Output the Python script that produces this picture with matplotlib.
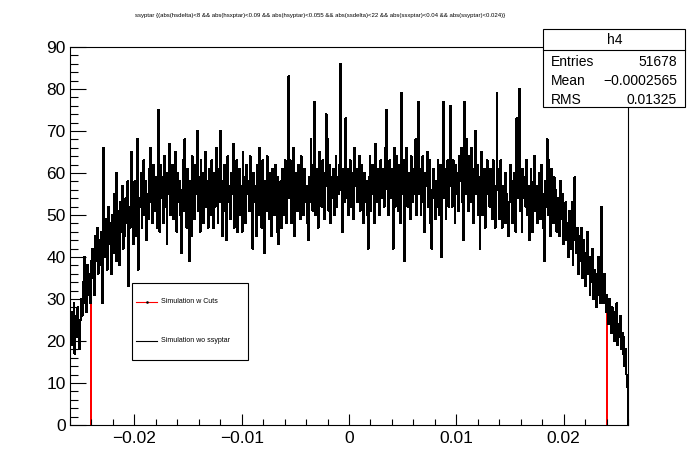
import matplotlib
matplotlib.use("Agg")
import matplotlib.pyplot as plt
import numpy as np
from matplotlib.lines import Line2D
from matplotlib.patches import Rectangle
from matplotlib.ticker import MultipleLocator

plt.rcParams["font.family"] = ["Liberation Sans", "DejaVu Sans"]

# histogram range and the ssyptar cut
x_min, x_max = -0.026, 0.026
cut = 0.024

# bin contents left to right (78 bins per block)
counts_a = [24, 19, 27, 22, 29, 17, 26, 21, 28, 23, 18, 25,
            30, 26, 34, 29, 40, 33, 27, 38, 31, 36, 29, 39,
            35, 42, 37, 31, 45, 39, 47, 36, 41, 44, 38, 46,
            29, 66, 44, 40, 49, 37, 46, 52, 43, 48, 36, 50,
            41, 55, 47, 39, 60, 44, 51, 38, 53, 46, 57, 42,
            50, 45, 54, 48, 58, 33, 52, 47, 65, 49, 55, 43,
            58, 45, 52, 68, 37, 54]
counts_b = [52, 60, 47, 56, 63, 50, 58, 44, 55, 49, 61, 53,
            66, 57, 48, 62, 54, 51, 59, 47, 75, 57, 46, 62,
            54, 59, 48, 64, 52, 57, 43, 60, 55, 67, 50, 58,
            62, 49, 57, 65, 52, 46, 60, 53, 58, 50, 41, 56,
            63, 51, 68, 55, 47, 61, 54, 39, 58, 45, 64, 52,
            57, 49, 62, 55, 70, 51, 59, 46, 63, 54, 60, 48,
            56, 65, 52, 58, 47, 61]
counts_c = [57, 50, 63, 54, 47, 60, 52, 66, 55, 48, 61, 53,
            70, 58, 45, 56, 62, 51, 59, 44, 64, 53, 57, 49,
            60, 55, 67, 47, 58, 52, 63, 46, 54, 61, 50, 57,
            46, 65, 53, 59, 48, 62, 55, 58, 51, 64, 56, 49,
            42, 60, 53, 57, 45, 62, 50, 66, 54, 59, 47, 63,
            55, 41, 58, 51, 64, 56, 49, 60, 53, 45, 61, 57,
            50, 62, 55, 46, 59, 43]
counts_d = [52, 58, 47, 61, 55, 50, 63, 57, 48, 60, 83, 54,
            63, 48, 56, 66, 53, 45, 60, 54, 51, 62, 57, 49,
            64, 55, 59, 50, 61, 53, 57, 48, 44, 59, 53, 68,
            58, 51, 62, 77, 50, 61, 56, 47, 65, 55, 60, 52,
            63, 55, 49, 60, 74, 57, 68, 51, 62, 48, 59, 54,
            61, 50, 57, 64, 52, 59, 55, 62, 86, 56, 46, 61,
            58, 53, 73, 54, 61, 50]
counts_e = [58, 63, 52, 60, 55, 49, 66, 57, 61, 53, 59, 64,
            51, 57, 62, 55, 48, 60, 53, 58, 50, 42, 59, 64,
            51, 57, 62, 55, 48, 67, 58, 53, 61, 56, 50, 63,
            54, 58, 61, 52, 66, 75, 60, 56, 50, 63, 54, 58,
            61, 42, 66, 52, 59, 64, 57, 51, 62, 48, 79, 60,
            55, 63, 39, 58, 66, 52, 60, 56, 49, 64, 57, 53,
            61, 55, 68, 50, 59, 77]
counts_f = [55, 61, 50, 58, 64, 53, 46, 60, 57, 65, 52, 59,
            63, 48, 42, 56, 61, 54, 49, 58, 52, 63, 57, 50,
            62, 40, 56, 77, 54, 61, 49, 58, 63, 52, 57, 76,
            58, 52, 63, 57, 48, 62, 55, 60, 51, 64, 58, 66,
            53, 61, 44, 77, 55, 68, 60, 51, 64, 58, 66, 53,
            61, 48, 57, 70, 55, 62, 50, 59, 42, 53, 65, 50,
            58, 61, 47, 56, 63, 55]
counts_g = [58, 52, 61, 56, 49, 63, 54, 47, 57, 79, 56, 61,
            49, 63, 54, 47, 57, 52, 60, 48, 55, 50, 45, 53,
            62, 55, 48, 58, 51, 60, 46, 73, 54, 58, 80, 51,
            58, 46, 61, 54, 59, 52, 63, 50, 57, 44, 55, 61,
            53, 46, 58, 64, 51, 57, 48, 56, 60, 54, 49, 62,
            55, 47, 39, 58, 52, 68, 50, 63, 57, 45, 61, 53,
            48, 59, 52, 56, 46, 54]
counts_h = [52, 45, 58, 49, 55, 43, 50, 47, 53, 44, 48, 40,
            51, 46, 42, 53, 38, 49, 59, 44, 41, 47, 36, 45,
            39, 47, 42, 35, 44, 38, 33, 41, 46, 36, 40, 31,
            38, 34, 42, 30, 37, 33, 28, 36, 40, 31, 35, 29,
            52, 33, 29, 36, 30, 27, 31, 28, 24, 30, 25, 22,
            28, 25, 20, 27, 23, 29, 19, 24, 21, 26, 18, 22,
            17, 21, 14, 18, 12, 9]

title = ("ssyptar {(abs(hsdelta)<8 && abs(hsxptar)<0.09 && abs(hsyptar)<0.055 "
         "&& abs(ssdelta)<22 && abs(ssxptar)<0.04 && abs(ssyptar)<0.024)}")
stat_names = ["Entries", "Mean", "RMS"]
stat_values = ["51678", "\u22120.0002565", "0.01325"]
legend_labels = ["Simulation w Cuts", "Simulation wo ssyptar"]
x_ticks = [-0.02, -0.01, 0, 0.01, 0.02]
x_ticklabels = ["\u22120.02", "\u22120.01", "0", "0.01", "0.02"]

counts = np.array(counts_a + counts_b + counts_c + counts_d
                  + counts_e + counts_f + counts_g + counts_h)
edges = np.linspace(x_min, x_max, len(counts) + 1)
centers = 0.5 * (edges[:-1] + edges[1:])
inside = np.abs(centers) < cut
first, last = np.flatnonzero(inside)[[0, -1]]

W, H = 698, 474


def fx(px):
    return px / W


def fy(py):
    return 1 - py / H


fig = plt.figure(figsize=(W / 100, H / 100), dpi=100)
ax = fig.add_axes([fx(70), fy(425), (628 - 70) / W, (425 - 47) / H])

# red (with cut) underneath; black on top hides it except the drops at +-0.024
ax.stairs(counts[first:last + 1], edges[first:last + 2], color="red",
          lw=0.75, antialiased=False)
ax.stairs(counts, edges, color="black", lw=0.75, antialiased=False)

ax.set_xlim(x_min, x_max)
ax.set_ylim(0, 90)
ax.set_xticks(x_ticks)
ax.set_xticklabels(x_ticklabels)
ax.set_yticks(range(0, 91, 10))
ax.xaxis.set_minor_locator(MultipleLocator(0.002))
ax.yaxis.set_minor_locator(MultipleLocator(2))
ax.tick_params(axis="both", which="both", direction="in", width=0.8,
               labelsize=12.5, top=False, right=False)
ax.tick_params(axis="y", which="major", length=11.5, pad=3)
ax.tick_params(axis="y", which="minor", length=5.8)
ax.tick_params(axis="x", which="major", length=8, pad=4)
ax.tick_params(axis="x", which="minor", length=4)
for sp in ax.spines.values():
    sp.set_linewidth(0.8)
    sp.set_zorder(3)

fig.text(fx(320), fy(15), title, fontsize=4.3, ha="center", va="center")

# stats box
fig.patches.append(Rectangle((fx(543), fy(107)), (685 - 543) / W, (107 - 29) / H,
                             transform=fig.transFigure, facecolor="white",
                             edgecolor="black", lw=0.8, zorder=5))
fig.lines.append(Line2D([fx(543), fx(685)], [fy(49.5), fy(49.5)],
                        transform=fig.transFigure, color="black", lw=0.8, zorder=6))
fig.text(fx(615), fy(40), "h4", fontsize=10, ha="center", va="center", zorder=7)
for i, (name, val) in enumerate(zip(stat_names, stat_values)):
    yy = fy(61.5 + 19.3 * i)
    fig.text(fx(551), yy, name, fontsize=10, ha="left", va="center", zorder=7)
    fig.text(fx(677), yy, val, fontsize=10, ha="right", va="center", zorder=7)

# legend box
fig.patches.append(Rectangle((fx(131.5), fy(360)), (247.5 - 131.5) / W, (360 - 283) / H,
                             transform=fig.transFigure, facecolor="white",
                             edgecolor="black", lw=0.8, zorder=5))
for i, (lab, col) in enumerate(zip(legend_labels, ["red", "black"])):
    yy = fy(301.5 + 39.5 * i)
    fig.lines.append(Line2D([fx(136), fx(157)], [yy, yy], transform=fig.transFigure,
                            color=col, lw=0.8, zorder=6))
    fig.text(fx(161), yy, lab, fontsize=5, ha="left", va="center", zorder=7)
fig.lines.append(Line2D([fx(147)], [fy(301.5)], transform=fig.transFigure,
                        color="black", marker="s", markersize=0.8, lw=0, zorder=7))

fig.savefig("out.png", dpi=100)
